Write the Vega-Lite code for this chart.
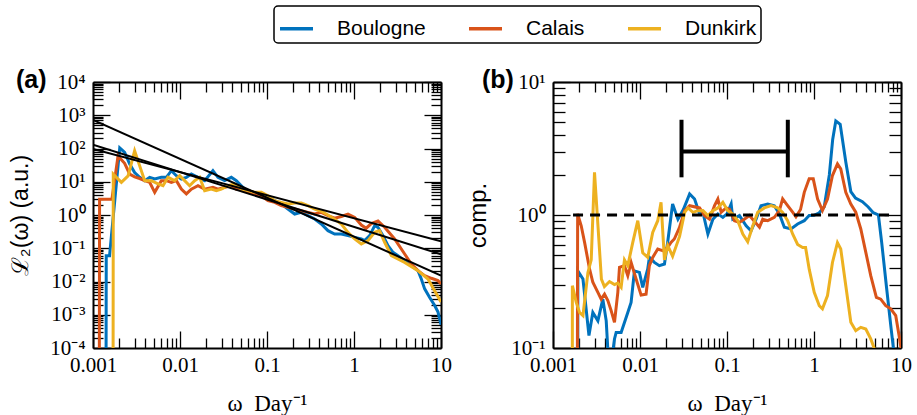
{
 "$schema": "https://vega.github.io/schema/vega-lite/v6.json",
 "padding": {"left": 9, "top": 5, "right": 5, "bottom": 5},
 "autosize": {"type": "pad"},
 "bounds": "flush",
 "spacing": 112,
 "config": {
  "view": {"stroke": null},
  "axis": {"grid": false, "domainColor": "black", "domainWidth": 2, "tickColor": "black", "tickWidth": 1.3, "labelColor": "black", "labelFont": "Liberation Serif", "labelFontSize": 21, "titleFont": "Liberation Sans", "titleFontWeight": "normal", "titleColor": "black", "labelFlush": false, "labelOverlap": false, "labelBound": false},
  "legend": {"strokeWidth": 1.5}
 },
 "datasets": {
  "a_series": [
   {"site":"Boulogne","x":0.00141,"y":0.000001},{"site":"Boulogne","x":0.00142,"y":0.06},{"site":"Boulogne","x":0.00155,"y":0.06},{"site":"Boulogne","x":0.00203,"y":105},{"site":"Boulogne","x":0.00231,"y":77},{"site":"Boulogne","x":0.00264,"y":34},{"site":"Boulogne","x":0.00301,"y":19},{"site":"Boulogne","x":0.00344,"y":13.6},{"site":"Boulogne","x":0.00393,"y":10.8},{"site":"Boulogne","x":0.00448,"y":13.6},{"site":"Boulogne","x":0.00512,"y":12.1},{"site":"Boulogne","x":0.0061,"y":13.6},{"site":"Boulogne","x":0.00697,"y":13.6},{"site":"Boulogne","x":0.00795,"y":21.5},{"site":"Boulogne","x":0.00908,"y":15.2},{"site":"Boulogne","x":0.01036,"y":12.1},{"site":"Boulogne","x":0.01183,"y":13.6},{"site":"Boulogne","x":0.01349,"y":17.1},{"site":"Boulogne","x":0.0161,"y":13.6},{"site":"Boulogne","x":0.0192,"y":10.8},{"site":"Boulogne","x":0.0239,"y":21.5},{"site":"Boulogne","x":0.0273,"y":13.6},{"site":"Boulogne","x":0.0326,"y":10.8},{"site":"Boulogne","x":0.0389,"y":13.6},{"site":"Boulogne","x":0.0444,"y":10.8},{"site":"Boulogne","x":0.0507,"y":7.6},{"site":"Boulogne","x":0.0605,"y":4.8},{"site":"Boulogne","x":0.0721,"y":4.3},{"site":"Boulogne","x":0.0861,"y":4.3},{"site":"Boulogne","x":0.1026,"y":3.4},{"site":"Boulogne","x":0.1225,"y":2.7},{"site":"Boulogne","x":0.146,"y":2.14},{"site":"Boulogne","x":0.174,"y":1.51},{"site":"Boulogne","x":0.208,"y":1.07},{"site":"Boulogne","x":0.248,"y":1.2},{"site":"Boulogne","x":0.296,"y":0.955},{"site":"Boulogne","x":0.353,"y":0.758},{"site":"Boulogne","x":0.421,"y":0.536},{"site":"Boulogne","x":0.502,"y":0.338},{"site":"Boulogne","x":0.599,"y":0.268},{"site":"Boulogne","x":0.715,"y":0.268},{"site":"Boulogne","x":0.853,"y":0.239},{"site":"Boulogne","x":1.018,"y":0.213},{"site":"Boulogne","x":1.214,"y":0.19},{"site":"Boulogne","x":1.326,"y":0.169},{"site":"Boulogne","x":1.514,"y":0.239},{"site":"Boulogne","x":1.728,"y":0.478},{"site":"Boulogne","x":1.887,"y":0.426},{"site":"Boulogne","x":2.154,"y":0.239},{"site":"Boulogne","x":2.459,"y":0.12},{"site":"Boulogne","x":2.806,"y":0.0754},{"site":"Boulogne","x":3.204,"y":0.0598},{"site":"Boulogne","x":3.822,"y":0.0423},{"site":"Boulogne","x":4.56,"y":0.0299},{"site":"Boulogne","x":5.44,"y":0.0212},{"site":"Boulogne","x":5.94,"y":0.0119},{"site":"Boulogne","x":6.49,"y":0.006},{"site":"Boulogne","x":7.41,"y":0.0033},{"site":"Boulogne","x":8.46,"y":0.0019},{"site":"Boulogne","x":9.24,"y":0.0012},{"site":"Boulogne","x":10,"y":0.0005},
   {"site":"Calais","x":0.00118,"y":0.000001},{"site":"Calais","x":0.00119,"y":3.0},{"site":"Calais","x":0.00157,"y":3.0},{"site":"Calais","x":0.00165,"y":3.0},{"site":"Calais","x":0.00194,"y":60},{"site":"Calais","x":0.00231,"y":36},{"site":"Calais","x":0.00264,"y":17},{"site":"Calais","x":0.00301,"y":14},{"site":"Calais","x":0.00344,"y":12.5},{"site":"Calais","x":0.00393,"y":10.8},{"site":"Calais","x":0.00448,"y":9.6},{"site":"Calais","x":0.00512,"y":4.8},{"site":"Calais","x":0.0061,"y":10.8},{"site":"Calais","x":0.00697,"y":10.8},{"site":"Calais","x":0.00795,"y":9.6},{"site":"Calais","x":0.00908,"y":10.8},{"site":"Calais","x":0.01036,"y":6.0},{"site":"Calais","x":0.01183,"y":4.3},{"site":"Calais","x":0.01349,"y":6.0},{"site":"Calais","x":0.0161,"y":7.6},{"site":"Calais","x":0.0192,"y":6.0},{"site":"Calais","x":0.0239,"y":6.8},{"site":"Calais","x":0.0273,"y":6.0},{"site":"Calais","x":0.0326,"y":6.8},{"site":"Calais","x":0.0389,"y":7.6},{"site":"Calais","x":0.0444,"y":6.0},{"site":"Calais","x":0.0507,"y":6.0},{"site":"Calais","x":0.0605,"y":4.8},{"site":"Calais","x":0.0721,"y":4.3},{"site":"Calais","x":0.0861,"y":3.8},{"site":"Calais","x":0.1026,"y":2.7},{"site":"Calais","x":0.1225,"y":2.4},{"site":"Calais","x":0.146,"y":1.91},{"site":"Calais","x":0.174,"y":1.7},{"site":"Calais","x":0.208,"y":1.51},{"site":"Calais","x":0.248,"y":1.35},{"site":"Calais","x":0.296,"y":1.2},{"site":"Calais","x":0.353,"y":1.07},{"site":"Calais","x":0.421,"y":1.2},{"site":"Calais","x":0.502,"y":0.955},{"site":"Calais","x":0.599,"y":0.8},{"site":"Calais","x":0.715,"y":0.9},{"site":"Calais","x":0.853,"y":1.07},{"site":"Calais","x":1.018,"y":0.85},{"site":"Calais","x":1.214,"y":0.5},{"site":"Calais","x":1.38,"y":0.4},{"site":"Calais","x":1.58,"y":0.55},{"site":"Calais","x":1.887,"y":0.66},{"site":"Calais","x":2.25,"y":0.43},{"site":"Calais","x":2.93,"y":0.19},{"site":"Calais","x":3.822,"y":0.067},{"site":"Calais","x":4.56,"y":0.0335},{"site":"Calais","x":5.44,"y":0.0212},{"site":"Calais","x":6.49,"y":0.015},{"site":"Calais","x":7.74,"y":0.0125},{"site":"Calais","x":9.24,"y":0.0106},{"site":"Calais","x":10,"y":0.0084},
   {"site":"Dunkirk","x":0.0017,"y":0.000001},{"site":"Dunkirk","x":0.00171,"y":17},{"site":"Dunkirk","x":0.00212,"y":9.6},{"site":"Dunkirk","x":0.00253,"y":15},{"site":"Dunkirk","x":0.00301,"y":85},{"site":"Dunkirk","x":0.00344,"y":30},{"site":"Dunkirk","x":0.00393,"y":10.8},{"site":"Dunkirk","x":0.00468,"y":10.8},{"site":"Dunkirk","x":0.00559,"y":8.6},{"site":"Dunkirk","x":0.00638,"y":7.6},{"site":"Dunkirk","x":0.00728,"y":13.6},{"site":"Dunkirk","x":0.00868,"y":10.8},{"site":"Dunkirk","x":0.00991,"y":15.2},{"site":"Dunkirk","x":0.01131,"y":10.8},{"site":"Dunkirk","x":0.0129,"y":7.6},{"site":"Dunkirk","x":0.01474,"y":10.8},{"site":"Dunkirk","x":0.01683,"y":13.6},{"site":"Dunkirk","x":0.0192,"y":5.4},{"site":"Dunkirk","x":0.0229,"y":6.0},{"site":"Dunkirk","x":0.02616,"y":5.4},{"site":"Dunkirk","x":0.02985,"y":6.0},{"site":"Dunkirk","x":0.0356,"y":7.6},{"site":"Dunkirk","x":0.0425,"y":8.6},{"site":"Dunkirk","x":0.0507,"y":6.0},{"site":"Dunkirk","x":0.0605,"y":5.4},{"site":"Dunkirk","x":0.0721,"y":4.8},{"site":"Dunkirk","x":0.0861,"y":4.8},{"site":"Dunkirk","x":0.1026,"y":3.8},{"site":"Dunkirk","x":0.1225,"y":2.7},{"site":"Dunkirk","x":0.146,"y":2.4},{"site":"Dunkirk","x":0.174,"y":2.14},{"site":"Dunkirk","x":0.208,"y":2.3},{"site":"Dunkirk","x":0.248,"y":2.3},{"site":"Dunkirk","x":0.296,"y":1.91},{"site":"Dunkirk","x":0.353,"y":1.51},{"site":"Dunkirk","x":0.421,"y":1.3},{"site":"Dunkirk","x":0.502,"y":1.0},{"site":"Dunkirk","x":0.599,"y":0.75},{"site":"Dunkirk","x":0.715,"y":0.536},{"site":"Dunkirk","x":0.853,"y":0.3},{"site":"Dunkirk","x":1.018,"y":0.19},{"site":"Dunkirk","x":1.214,"y":0.134},{"site":"Dunkirk","x":1.449,"y":0.169},{"site":"Dunkirk","x":1.728,"y":0.3},{"site":"Dunkirk","x":1.97,"y":0.338},{"site":"Dunkirk","x":2.25,"y":0.151},{"site":"Dunkirk","x":2.69,"y":0.06},{"site":"Dunkirk","x":3.822,"y":0.0376},{"site":"Dunkirk","x":5.44,"y":0.0212},{"site":"Dunkirk","x":7.09,"y":0.0119},{"site":"Dunkirk","x":9.24,"y":0.0035},{"site":"Dunkirk","x":10,"y":0.0024}
  ],
  "a_fits": [
   {"fit":"f1","x":0.001,"y":720},{"fit":"f1","x":10,"y":0.0151},
   {"fit":"f2","x":0.001,"y":130},{"fit":"f2","x":10,"y":0.066},
   {"fit":"f3","x":0.001,"y":96.6},{"fit":"f3","x":10,"y":0.162}
  ],
  "b_series": [
   {"site":"Boulogne","x":0.00192,"y":0.000001},{"site":"Boulogne","x":0.00193,"y":0.38},{"site":"Boulogne","x":0.00221,"y":0.33},{"site":"Boulogne","x":0.00259,"y":0.124},{"site":"Boulogne","x":0.00287,"y":0.185},{"site":"Boulogne","x":0.00328,"y":0.16},{"site":"Boulogne","x":0.00374,"y":0.233},{"site":"Boulogne","x":0.00409,"y":0.16},{"site":"Boulogne","x":0.00445,"y":0.06},{"site":"Boulogne","x":0.00509,"y":0.117},{"site":"Boulogne","x":0.00532,"y":0.131},{"site":"Boulogne","x":0.00607,"y":0.131},{"site":"Boulogne","x":0.00724,"y":0.185},{"site":"Boulogne","x":0.0079,"y":0.22},{"site":"Boulogne","x":0.00863,"y":0.38},{"site":"Boulogne","x":0.00985,"y":0.37},{"site":"Boulogne","x":0.01075,"y":0.286},{"site":"Boulogne","x":0.01227,"y":0.393},{"site":"Boulogne","x":0.01282,"y":0.48},{"site":"Boulogne","x":0.01463,"y":0.44},{"site":"Boulogne","x":0.0167,"y":0.416},{"site":"Boulogne","x":0.0191,"y":0.428},{"site":"Boulogne","x":0.0208,"y":0.623},{"site":"Boulogne","x":0.0237,"y":1.21},{"site":"Boulogne","x":0.0273,"y":0.93},{"site":"Boulogne","x":0.0315,"y":1.1},{"site":"Boulogne","x":0.0372,"y":1.44},{"site":"Boulogne","x":0.0424,"y":1.32},{"site":"Boulogne","x":0.0484,"y":1.02},{"site":"Boulogne","x":0.0528,"y":1.05},{"site":"Boulogne","x":0.0603,"y":0.72},{"site":"Boulogne","x":0.0688,"y":0.93},{"site":"Boulogne","x":0.0785,"y":1.02},{"site":"Boulogne","x":0.0896,"y":0.96},{"site":"Boulogne","x":0.1,"y":1.02},{"site":"Boulogne","x":0.1116,"y":1.21},{"site":"Boulogne","x":0.1167,"y":0.93},{"site":"Boulogne","x":0.139,"y":0.99},{"site":"Boulogne","x":0.166,"y":0.83},{"site":"Boulogne","x":0.189,"y":0.76},{"site":"Boulogne","x":0.216,"y":0.93},{"site":"Boulogne","x":0.246,"y":1.175},{"site":"Boulogne","x":0.294,"y":1.21},{"site":"Boulogne","x":0.35,"y":1.175},{"site":"Boulogne","x":0.4,"y":1.02},{"site":"Boulogne","x":0.456,"y":0.81},{"site":"Boulogne","x":0.544,"y":0.785},{"site":"Boulogne","x":0.648,"y":0.856},{"site":"Boulogne","x":0.773,"y":0.906},{"site":"Boulogne","x":0.88,"y":0.99},{"site":"Boulogne","x":1.0,"y":0.995},{"site":"Boulogne","x":1.15,"y":1.04},{"site":"Boulogne","x":1.31,"y":1.15},{"site":"Boulogne","x":1.5,"y":2.0},{"site":"Boulogne","x":1.64,"y":3.7},{"site":"Boulogne","x":1.78,"y":5.1},{"site":"Boulogne","x":2.0,"y":4.8},{"site":"Boulogne","x":2.32,"y":2.5},{"site":"Boulogne","x":2.65,"y":1.5},{"site":"Boulogne","x":3.0,"y":1.34},{"site":"Boulogne","x":3.6,"y":1.26},{"site":"Boulogne","x":4.2,"y":1.15},{"site":"Boulogne","x":4.8,"y":1.04},{"site":"Boulogne","x":5.5,"y":1.0},{"site":"Boulogne","x":6.0,"y":0.62},{"site":"Boulogne","x":6.8,"y":0.29},{"site":"Boulogne","x":7.7,"y":0.14},{"site":"Boulogne","x":8.5,"y":0.08},
   {"site":"Calais","x":0.00185,"y":0.000001},{"site":"Calais","x":0.00192,"y":1.02},{"site":"Calais","x":0.00211,"y":0.83},{"site":"Calais","x":0.00231,"y":0.62},{"site":"Calais","x":0.00263,"y":0.393},{"site":"Calais","x":0.00287,"y":0.312},{"site":"Calais","x":0.00328,"y":0.262},{"site":"Calais","x":0.00358,"y":0.233},{"site":"Calais","x":0.00391,"y":0.254},{"site":"Calais","x":0.00427,"y":0.227},{"site":"Calais","x":0.00466,"y":0.191},{"site":"Calais","x":0.00509,"y":0.156},{"site":"Calais","x":0.00556,"y":0.262},{"site":"Calais","x":0.00581,"y":0.404},{"site":"Calais","x":0.00663,"y":0.416},{"site":"Calais","x":0.00724,"y":0.35},{"site":"Calais","x":0.0079,"y":0.44},{"site":"Calais","x":0.00902,"y":0.33},{"site":"Calais","x":0.0103,"y":0.25},{"site":"Calais","x":0.01174,"y":0.254},{"site":"Calais","x":0.01282,"y":0.416},{"site":"Calais","x":0.014,"y":0.48},{"site":"Calais","x":0.016,"y":0.555},{"site":"Calais","x":0.0182,"y":0.54},{"site":"Calais","x":0.0208,"y":0.57},{"site":"Calais","x":0.0227,"y":0.623},{"site":"Calais","x":0.0248,"y":0.66},{"site":"Calais","x":0.0283,"y":0.8},{"site":"Calais","x":0.0309,"y":0.96},{"site":"Calais","x":0.0326,"y":1.08},{"site":"Calais","x":0.0372,"y":1.175},{"site":"Calais","x":0.0484,"y":1.13},{"site":"Calais","x":0.0552,"y":0.99},{"site":"Calais","x":0.063,"y":0.93},{"site":"Calais","x":0.0719,"y":1.175},{"site":"Calais","x":0.0785,"y":1.32},{"site":"Calais","x":0.0857,"y":1.05},{"site":"Calais","x":0.0978,"y":1.13},{"site":"Calais","x":0.107,"y":1.1},{"site":"Calais","x":0.122,"y":0.906},{"site":"Calais","x":0.139,"y":0.88},{"site":"Calais","x":0.158,"y":0.93},{"site":"Calais","x":0.181,"y":0.99},{"site":"Calais","x":0.205,"y":0.9},{"site":"Calais","x":0.236,"y":0.81},{"site":"Calais","x":0.258,"y":0.93},{"site":"Calais","x":0.294,"y":0.906},{"site":"Calais","x":0.35,"y":0.96},{"site":"Calais","x":0.4,"y":1.078},{"site":"Calais","x":0.436,"y":1.32},{"site":"Calais","x":0.498,"y":1.175},{"site":"Calais","x":0.568,"y":1.05},{"site":"Calais","x":0.62,"y":0.97},{"site":"Calais","x":0.7,"y":1.1},{"site":"Calais","x":0.773,"y":1.48},{"site":"Calais","x":0.88,"y":1.87},{"site":"Calais","x":0.98,"y":1.87},{"site":"Calais","x":1.1,"y":1.32},{"site":"Calais","x":1.25,"y":1.08},{"site":"Calais","x":1.43,"y":1.32},{"site":"Calais","x":1.63,"y":1.98},{"site":"Calais","x":1.86,"y":2.42},{"site":"Calais","x":2.03,"y":2.22},{"site":"Calais","x":2.32,"y":1.48},{"site":"Calais","x":2.65,"y":1.21},{"site":"Calais","x":3.02,"y":1.05},{"site":"Calais","x":3.45,"y":0.785},{"site":"Calais","x":3.94,"y":0.524},{"site":"Calais","x":4.49,"y":0.35},{"site":"Calais","x":5.21,"y":0.24},{"site":"Calais","x":5.85,"y":0.233},{"site":"Calais","x":6.67,"y":0.208},{"site":"Calais","x":7.62,"y":0.197},{"site":"Calais","x":8.7,"y":0.175},{"site":"Calais","x":9.5,"y":0.124},{"site":"Calais","x":10,"y":0.1},
   {"site":"Dunkirk","x":0.00166,"y":0.000001},{"site":"Dunkirk","x":0.00167,"y":0.294},{"site":"Dunkirk","x":0.00185,"y":0.22},{"site":"Dunkirk","x":0.00202,"y":0.185},{"site":"Dunkirk","x":0.00221,"y":0.175},{"site":"Dunkirk","x":0.00252,"y":0.37},{"site":"Dunkirk","x":0.00275,"y":0.46},{"site":"Dunkirk","x":0.003,"y":2.09},{"site":"Dunkirk","x":0.0036,"y":0.33},{"site":"Dunkirk","x":0.0039,"y":0.29},{"site":"Dunkirk","x":0.00446,"y":0.316},{"site":"Dunkirk","x":0.00509,"y":0.3},{"site":"Dunkirk","x":0.00556,"y":0.308},{"site":"Dunkirk","x":0.00607,"y":0.286},{"site":"Dunkirk","x":0.00663,"y":0.46},{"site":"Dunkirk","x":0.00724,"y":0.416},{"site":"Dunkirk","x":0.00826,"y":0.623},{"site":"Dunkirk","x":0.00943,"y":0.906},{"site":"Dunkirk","x":0.01075,"y":0.52},{"site":"Dunkirk","x":0.01227,"y":0.48},{"site":"Dunkirk","x":0.014,"y":0.74},{"site":"Dunkirk","x":0.016,"y":0.906},{"site":"Dunkirk","x":0.01745,"y":1.245},{"site":"Dunkirk","x":0.0191,"y":0.46},{"site":"Dunkirk","x":0.0208,"y":0.59},{"site":"Dunkirk","x":0.0237,"y":0.49},{"site":"Dunkirk","x":0.0285,"y":0.69},{"site":"Dunkirk","x":0.0326,"y":1.047},{"site":"Dunkirk","x":0.0357,"y":1.13},{"site":"Dunkirk","x":0.0406,"y":1.047},{"site":"Dunkirk","x":0.0463,"y":1.078},{"site":"Dunkirk","x":0.0528,"y":1.08},{"site":"Dunkirk","x":0.0603,"y":0.99},{"site":"Dunkirk","x":0.0688,"y":1.078},{"site":"Dunkirk","x":0.0785,"y":1.13},{"site":"Dunkirk","x":0.0896,"y":1.245},{"site":"Dunkirk","x":0.102,"y":1.078},{"site":"Dunkirk","x":0.1167,"y":1.017},{"site":"Dunkirk","x":0.133,"y":0.906},{"site":"Dunkirk","x":0.152,"y":0.72},{"site":"Dunkirk","x":0.173,"y":0.63},{"site":"Dunkirk","x":0.198,"y":0.83},{"site":"Dunkirk","x":0.2256,"y":1.047},{"site":"Dunkirk","x":0.269,"y":1.13},{"site":"Dunkirk","x":0.3207,"y":1.175},{"site":"Dunkirk","x":0.3825,"y":1.13},{"site":"Dunkirk","x":0.436,"y":1.047},{"site":"Dunkirk","x":0.498,"y":0.906},{"site":"Dunkirk","x":0.568,"y":0.72},{"site":"Dunkirk","x":0.648,"y":0.6},{"site":"Dunkirk","x":0.74,"y":0.57},{"site":"Dunkirk","x":0.8,"y":0.57},{"site":"Dunkirk","x":0.882,"y":0.39},{"site":"Dunkirk","x":1.006,"y":0.262},{"site":"Dunkirk","x":1.15,"y":0.208},{"site":"Dunkirk","x":1.25,"y":0.197},{"site":"Dunkirk","x":1.43,"y":0.248},{"site":"Dunkirk","x":1.63,"y":0.44},{"site":"Dunkirk","x":1.86,"y":0.62},{"site":"Dunkirk","x":2.03,"y":0.555},{"site":"Dunkirk","x":2.32,"y":0.294},{"site":"Dunkirk","x":2.65,"y":0.156},{"site":"Dunkirk","x":3.02,"y":0.135},{"site":"Dunkirk","x":3.45,"y":0.143},{"site":"Dunkirk","x":3.94,"y":0.139},{"site":"Dunkirk","x":4.49,"y":0.117},{"site":"Dunkirk","x":4.91,"y":0.1},{"site":"Dunkirk","x":5.3,"y":0.085}
  ],
  "b_dash": [{"x":0.0017,"y":1},{"x":7.3,"y":1}],
  "b_bracket": [
   {"x":0.03,"x2":0.5,"y":3.0,"y2":3.0},
   {"x":0.03,"x2":0.03,"y":1.92,"y2":5.2},
   {"x":0.5,"x2":0.5,"y":1.92,"y2":5.2}
  ]
 },
 "hconcat": [
  {
   "width": 348, "height": 266,
   "title": {"text": "(a)", "anchor": "start", "frame": "group", "dx": -77, "dy": 42, "offset": 0, "baseline": "alphabetic", "font": "Liberation Sans", "fontSize": 25, "fontWeight": "bold", "color": "black"},
   "layer": [
    {
     "data": {"name": "a_series"},
     "mark": {"type": "line", "strokeWidth": 3, "clip": true},
     "encoding": {
      "x": {"field": "x", "type": "quantitative", "scale": {"type": "log", "domain": [0.001, 10], "nice": false},
       "axis": {"orient": "bottom", "values": [0.001,0.002,0.003,0.004,0.005,0.006,0.007,0.008,0.009,0.01,0.02,0.03,0.04,0.05,0.06,0.07,0.08,0.09,0.1,0.2,0.3,0.4,0.5,0.6,0.7,0.8,0.9,1,2,3,4,5,6,7,8,9,10],
        "labelExpr": "abs(log(datum.value)/LN10 - round(log(datum.value)/LN10)) < 0.001 ? format(datum.value, '') : ''",
        "tickSize": {"condition": {"test": "abs(log(datum.value)/LN10 - round(log(datum.value)/LN10)) < 0.001", "value": -17}, "value": -10},
        "labelPadding": 23, "title": "ω\u2002Day⁻¹", "titleFont": "Liberation Serif", "titleFontSize": 23, "titlePadding": 10}},
      "y": {"field": "y", "type": "quantitative", "scale": {"type": "log", "domain": [0.0001, 10000], "nice": false},
       "axis": {"orient": "left", "values": [0.0001,0.0002,0.0003,0.0004,0.0005,0.0006,0.0007,0.0008,0.0009,0.001,0.002,0.003,0.004,0.005,0.006,0.007,0.008,0.009,0.01,0.02,0.03,0.04,0.05,0.06,0.07,0.08,0.09,0.1,0.2,0.3,0.4,0.5,0.6,0.7,0.8,0.9,1,2,3,4,5,6,7,8,9,10,20,30,40,50,60,70,80,90,100,200,300,400,500,600,700,800,900,1000,2000,3000,4000,5000,6000,7000,8000,9000,10000],
        "labelExpr": "abs(log(datum.value)/LN10 - round(log(datum.value)/LN10)) < 0.001 ? '10' + replace(replace(replace(replace(replace(replace(''+round(log(datum.value)/LN10),'-','⁻'),'0','⁰'),'1','¹'),'2','²'),'3','³'),'4','⁴') : ''",
        "tickSize": {"condition": {"test": "abs(log(datum.value)/LN10 - round(log(datum.value)/LN10)) < 0.001", "value": -17}, "value": -10},
        "labelPadding": 25, "title": "ℒ₂(ω) (a.u.)", "titleFontSize": 23, "titlePadding": 17}},
      "color": {"field": "site", "type": "nominal", "scale": {"domain": ["Boulogne", "Calais", "Dunkirk"], "range": ["#0072BD", "#D95319", "#EDB120"]},
       "legend": {"orient": "none", "legendX": 181, "legendY": -76, "direction": "horizontal", "title": null, "symbolType": "stroke", "symbolStrokeWidth": 3.5, "symbolSize": 1089, "labelFont": "Liberation Sans", "labelFontSize": 21, "labelColor": "black", "labelOffset": 22, "columnPadding": 36, "padding": 4, "strokeColor": "black", "cornerRadius": 4, "fillColor": "white"}}
     }
    },
    {
     "data": {"name": "a_fits"},
     "mark": {"type": "line", "color": "black", "strokeWidth": 2, "clip": true},
     "encoding": {
      "x": {"field": "x", "type": "quantitative", "axis": null},
      "y": {"field": "y", "type": "quantitative", "axis": null},
      "detail": {"field": "fit"}
     }
    },
    {
     "data": {"name": "a_fits"},
     "mark": {"type": "line", "strokeOpacity": 0},
     "encoding": {
      "x": {"field": "x", "type": "quantitative",
       "axis": {"orient": "top", "labels": false, "title": null, "values": [0.001,0.002,0.003,0.004,0.005,0.006,0.007,0.008,0.009,0.01,0.02,0.03,0.04,0.05,0.06,0.07,0.08,0.09,0.1,0.2,0.3,0.4,0.5,0.6,0.7,0.8,0.9,1,2,3,4,5,6,7,8,9,10],
        "tickSize": {"condition": {"test": "abs(log(datum.value)/LN10 - round(log(datum.value)/LN10)) < 0.001", "value": -17}, "value": -10}}},
      "y": {"field": "y", "type": "quantitative",
       "axis": {"orient": "right", "labels": false, "title": null, "values": [0.0001,0.0002,0.0003,0.0004,0.0005,0.0006,0.0007,0.0008,0.0009,0.001,0.002,0.003,0.004,0.005,0.006,0.007,0.008,0.009,0.01,0.02,0.03,0.04,0.05,0.06,0.07,0.08,0.09,0.1,0.2,0.3,0.4,0.5,0.6,0.7,0.8,0.9,1,2,3,4,5,6,7,8,9,10,20,30,40,50,60,70,80,90,100,200,300,400,500,600,700,800,900,1000,2000,3000,4000,5000,6000,7000,8000,9000,10000],
        "tickSize": {"condition": {"test": "abs(log(datum.value)/LN10 - round(log(datum.value)/LN10)) < 0.001", "value": -17}, "value": -10}}},
      "detail": {"field": "fit"}
     }
    }
   ],
   "resolve": {"axis": {"x": "independent", "y": "independent"}}
  },
  {
   "width": 348, "height": 266,
   "title": {"text": "(b)", "anchor": "start", "frame": "group", "dx": -71, "dy": 42, "offset": 0, "baseline": "alphabetic", "font": "Liberation Sans", "fontSize": 25, "fontWeight": "bold", "color": "black"},
   "layer": [
    {
     "data": {"name": "b_series"},
     "mark": {"type": "line", "strokeWidth": 3, "clip": true},
     "encoding": {
      "x": {"field": "x", "type": "quantitative", "scale": {"type": "log", "domain": [0.001, 10], "nice": false},
       "axis": {"orient": "bottom", "values": [0.001,0.002,0.003,0.004,0.005,0.006,0.007,0.008,0.009,0.01,0.02,0.03,0.04,0.05,0.06,0.07,0.08,0.09,0.1,0.2,0.3,0.4,0.5,0.6,0.7,0.8,0.9,1,2,3,4,5,6,7,8,9,10],
        "labelExpr": "abs(log(datum.value)/LN10 - round(log(datum.value)/LN10)) < 0.001 ? format(datum.value, '') : ''",
        "tickSize": {"condition": {"test": "abs(log(datum.value)/LN10 - round(log(datum.value)/LN10)) < 0.001", "value": -17}, "value": -10},
        "labelPadding": 23, "title": "ω\u2002Day⁻¹", "titleFont": "Liberation Serif", "titleFontSize": 23, "titlePadding": 10}},
      "y": {"field": "y", "type": "quantitative", "scale": {"type": "log", "domain": [0.1, 10], "nice": false},
       "axis": {"orient": "left", "values": [0.1,0.2,0.3,0.4,0.5,0.6,0.7,0.8,0.9,1,2,3,4,5,6,7,8,9,10],
        "labelExpr": "abs(log(datum.value)/LN10 - round(log(datum.value)/LN10)) < 0.001 ? '10' + replace(replace(replace(''+round(log(datum.value)/LN10),'-','⁻'),'0','⁰'),'1','¹') : ''",
        "tickSize": {"condition": {"test": "abs(log(datum.value)/LN10 - round(log(datum.value)/LN10)) < 0.001", "value": -17}, "value": -12},
        "labelPadding": 25, "title": "comp.", "titleFontSize": 24, "titlePadding": 20}},
      "color": {"field": "site", "type": "nominal", "scale": {"domain": ["Boulogne", "Calais", "Dunkirk"], "range": ["#0072BD", "#D95319", "#EDB120"]},
       "legend": {"orient": "none", "legendX": 181, "legendY": -76, "direction": "horizontal", "title": null, "symbolType": "stroke", "symbolStrokeWidth": 3.5, "symbolSize": 1089, "labelFont": "Liberation Sans", "labelFontSize": 21, "labelColor": "black", "labelOffset": 22, "columnPadding": 36, "padding": 4, "strokeColor": "black", "cornerRadius": 4, "fillColor": "white"}}
     }
    },
    {
     "data": {"name": "b_dash"},
     "mark": {"type": "line", "color": "black", "strokeWidth": 3, "strokeDash": [10, 7]},
     "encoding": {
      "x": {"field": "x", "type": "quantitative", "axis": null},
      "y": {"field": "y", "type": "quantitative", "axis": null}
     }
    },
    {
     "data": {"name": "b_bracket"},
     "mark": {"type": "rule", "color": "black", "strokeWidth": 4},
     "encoding": {
      "x": {"field": "x", "type": "quantitative", "axis": null},
      "x2": {"field": "x2"},
      "y": {"field": "y", "type": "quantitative", "axis": null},
      "y2": {"field": "y2"}
     }
    },
    {
     "data": {"name": "b_dash"},
     "mark": {"type": "line", "strokeOpacity": 0},
     "encoding": {
      "x": {"field": "x", "type": "quantitative",
       "axis": {"orient": "top", "labels": false, "title": null, "values": [0.001,0.002,0.003,0.004,0.005,0.006,0.007,0.008,0.009,0.01,0.02,0.03,0.04,0.05,0.06,0.07,0.08,0.09,0.1,0.2,0.3,0.4,0.5,0.6,0.7,0.8,0.9,1,2,3,4,5,6,7,8,9,10],
        "tickSize": {"condition": {"test": "abs(log(datum.value)/LN10 - round(log(datum.value)/LN10)) < 0.001", "value": -17}, "value": -10}}},
      "y": {"field": "y", "type": "quantitative",
       "axis": {"orient": "right", "labels": false, "title": null, "values": [0.1,0.2,0.3,0.4,0.5,0.6,0.7,0.8,0.9,1,2,3,4,5,6,7,8,9,10],
        "tickSize": {"condition": {"test": "abs(log(datum.value)/LN10 - round(log(datum.value)/LN10)) < 0.001", "value": -17}, "value": -12}}}
     }
    }
   ],
   "resolve": {"axis": {"x": "independent", "y": "independent"}}
  }
 ]
}
